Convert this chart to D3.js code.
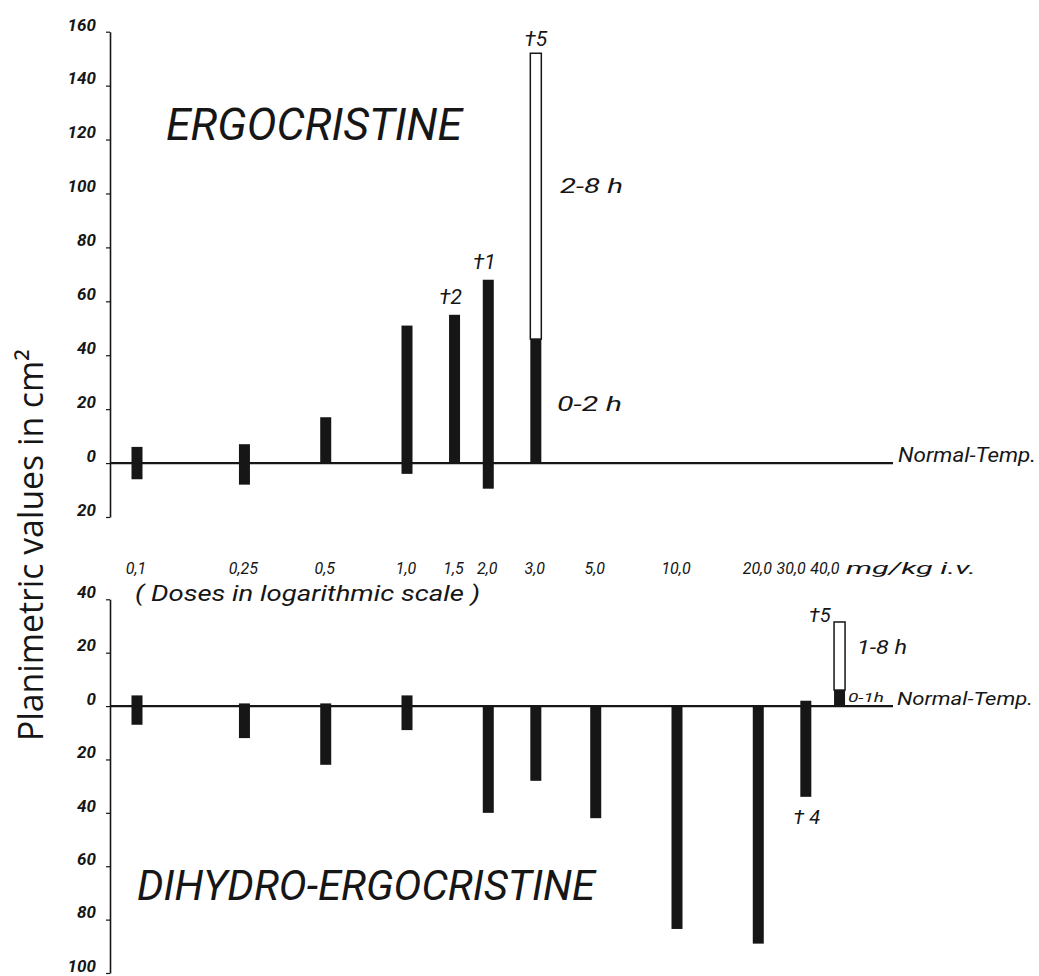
<!DOCTYPE html>
<html>
<head>
<meta charset="utf-8">
<script src="https://cdn.jsdelivr.net/npm/d3@7"></script>
<style>
  body { margin: 0; background: #fff; }
  text { font-family: Roboto, "DejaVu Sans", sans-serif; fill: #161616; }
</style>
</head>
<body>
<div id="canvas"></div>
<script>
"use strict"

/* Values (cm2, sign = above / below normal temp) */
let topDoses = [0.1, 0.25, 0.5, 1.0, 1.5, 2.0, 3.0];
let topRise = [6, 7, 17, 51, 55, 68, 46];          // black part, 0-2 h
let topFall = [-6, -8, 0, -4, 0, -9.5, 0];
let topLate = [0, 0, 0, 0, 0, 0, 152];             // white part, 2-8 h
let topDeaths = ["", "", "", "", "†2", "†1", "†5"];

let bottomDoses = [0.1, 0.25, 0.5, 1.0, 2.0, 3.0, 5.0, 10.0, 20.0, 30.0, 40.0];
let bottomRise = [4, 1, 1, 4, 0, 0, 0, 0, 0, 2, 6];   // black part, 0-1 h
let bottomFall = [-7, -12, -22, -9, -40, -28, -42, -83.5, -89, -34, 0];
let bottomLate = [0, 0, 0, 0, 0, 0, 0, 0, 0, 0, 31.5]; // white part, 1-8 h
let bottomDeaths = ["", "", "", "", "", "", "", "", "", "† 4", "†5"];

let doseTicks = [0.1, 0.25, 0.5, 1.0, 1.5, 2.0, 3.0, 5.0, 10.0, 20.0, 30.0, 40.0];
let doseTickLabels = ["0,1", "0,25", "0,5", "1,0", "1,5", "2,0", "3,0", "5,0", "10,0", "20,0", "30,0", "40,0"];

let topTicks = [160, 140, 120, 100, 80, 60, 40, 20, 0, -20];
let bottomTicks = [40, 20, 0, -20, -40, -60, -80, -100];

/* Drawing config */
let svgWidth = 1039;
let svgHeight = 976;
let axisX = 110;
let lineEnd = 893;
let ink = "#161616";

let svg = d3.select("#canvas")
    .append("svg")
    .attr("width", svgWidth)
    .attr("height", svgHeight);

svg.append("rect")
    .attr("width", svgWidth)
    .attr("height", svgHeight)
    .attr("fill", "#fff");

/* Scales: log dose on x, two linear panels on y */
let x = d3.scaleLog()
    .domain([0.1, 1])
    .range([137, 407]);

let yTop = d3.scaleLinear()
    .domain([-20, 160])
    .range([517, 31.7]);

let yBottom = d3.scaleLinear()
    .domain([-100, 40])
    .range([973, 599.3]);

/* Axes */
function drawAxis(scale, ticks) {
    let g = svg.append("g")
        .attr("transform", "translate(" + axisX + ",0)")
        .call(d3.axisLeft(scale)
            .tickValues(ticks)
            .tickSize(4)
            .tickSizeOuter(0)
            .tickFormat(d => Math.abs(d)));
    g.attr("font-size", null).attr("font-family", null);
    g.select(".domain").attr("stroke", ink).attr("stroke-width", 1.6);
    g.selectAll(".tick line").attr("stroke", ink).attr("stroke-width", 1.2);
    g.selectAll(".tick text")
        .attr("x", -14)
        .attr("dy", "-0.1em")
        .attr("fill", ink)
        .style("font-size", "17px")
        .style("font-style", "italic")
        .style("font-weight", "bold");
}
drawAxis(yTop, topTicks);
drawAxis(yBottom, bottomTicks);

/* Normal-temperature lines */
[yTop, yBottom].forEach(function (scale) {
    svg.append("line")
        .attr("x1", axisX)
        .attr("x2", lineEnd)
        .attr("y1", scale(0))
        .attr("y2", scale(0))
        .attr("stroke", ink)
        .attr("stroke-width", 2.2);
});

/* Bars */
function drawBars(doses, rise, fall, late, scale, width) {
    let rows = doses.map((d, i) => ({ dose: d, rise: rise[i], fall: fall[i], late: late[i] }));
    let g = svg.append("g");

    g.selectAll("rect.late")
        .data(rows.filter(r => r.late > 0))
        .join("rect")
        .attr("class", "late")
        .attr("x", r => x(r.dose) - width / 2)
        .attr("width", width)
        .attr("y", r => scale(r.late))
        .attr("height", r => scale(r.rise) - scale(r.late))
        .attr("fill", "#fff")
        .attr("stroke", ink)
        .attr("stroke-width", 1.5);

    g.selectAll("rect.solid")
        .data(rows)
        .join("rect")
        .attr("class", "solid")
        .attr("x", r => x(r.dose) - width / 2)
        .attr("width", width)
        .attr("y", r => scale(r.rise))
        .attr("height", r => scale(r.fall) - scale(r.rise))
        .attr("fill", ink);

    return rows;
}
let topRows = drawBars(topDoses, topRise, topFall, topLate, yTop, 11);
let bottomRows = drawBars(bottomDoses, bottomRise, bottomFall, bottomLate, yBottom, 11);

/* Death marks */
svg.append("g").selectAll("text")
    .data(topRows.map((r, i) => Object.assign({ mark: topDeaths[i] }, r)).filter(r => r.mark))
    .join("text")
    .attr("x", r => x(r.dose) - (r.late > 0 ? 0 : 4))
    .attr("y", r => yTop(Math.max(r.rise, r.late)) - (r.late > 0 ? 7 : 11))
    .attr("text-anchor", "middle")
    .style("font-size", "21px")
    .style("font-style", "italic")
    .text(r => r.mark);

svg.append("g").selectAll("text")
    .data(bottomRows.map((r, i) => Object.assign({ mark: bottomDeaths[i] }, r)).filter(r => r.mark))
    .join("text")
    .attr("x", r => r.late > 0 ? x(r.dose) - 9 : x(r.dose) + 1)
    .attr("y", r => r.late > 0 ? yBottom(r.late) : yBottom(r.fall) + 27)
    .attr("text-anchor", r => r.late > 0 ? "end" : "middle")
    .style("font-size", "20px")
    .style("font-style", "italic")
    .text(r => r.mark);

/* Dose labels between the panels */
svg.append("g").selectAll("text")
    .data(doseTicks)
    .join("text")
    .attr("x", d => d >= 30 ? x(d) : x(d) - 1)
    .attr("y", 574)
    .attr("text-anchor", d => d >= 30 ? "end" : "middle")
    .style("font-size", "16px")
    .style("font-style", "italic")
    .text((d, i) => doseTickLabels[i]);

function label(txt, px, py, size, len) {
    let t = svg.append("text")
        .attr("x", px)
        .attr("y", py)
        .style("font-size", size + "px")
        .style("font-style", "italic")
        .text(txt);
    if (len) {
        t.attr("textLength", len).attr("lengthAdjust", "spacingAndGlyphs");
    }
    return t;
}

label("mg/kg i.v.", 846, 574, 17, 130);
label("( Doses in logarithmic scale )", 135, 601, 22, 345);

/* Panel titles */
label("ERGOCRISTINE", 166, 140, 45, 296);
label("DIHYDRO-ERGOCRISTINE", 137, 900, 42, 458);

/* Bar annotations */
label("2-8 h", 560, 193, 21, 63);
label("0-2 h", 557, 411, 21, 65);
label("Normal-Temp.", 898, 462, 21, 138);

label("1-8 h", 857, 654, 20, 50);
label("0-1h", 848, 702, 13, 36);
label("Normal-Temp.", 897, 705, 19, 136);

/* Y axis title */
svg.append("text")
    .attr("transform", "translate(43,545) rotate(-90)")
    .attr("text-anchor", "middle")
    .attr("textLength", 392)
    .attr("lengthAdjust", "spacingAndGlyphs")
    .style("font-family", "'Open Sans', Roboto, sans-serif")
    .style("font-size", "34px")
    .attr("fill", "#2a2a2a")
    .text("Planimetric values in cm²");
</script>
</body>
</html>
